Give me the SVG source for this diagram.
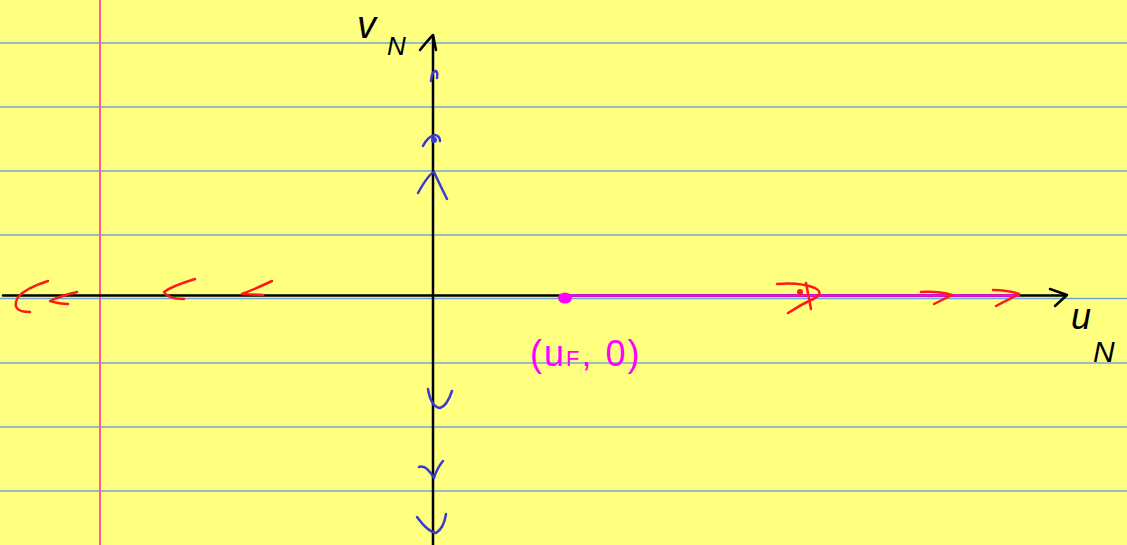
<svg xmlns="http://www.w3.org/2000/svg" width="1127" height="545" viewBox="0 0 1127 545">
<style>
.rule{stroke:#6fa8d8;stroke-width:1.5}
.ax{stroke:#000;stroke-width:2.5;fill:none;stroke-linecap:round;stroke-linejoin:round}
.blue{stroke:#3a3ad0;stroke-width:2.5;fill:none;stroke-linecap:round;stroke-linejoin:round}
.red{stroke:#ff1a1a;stroke-width:2.5;fill:none;stroke-linecap:round;stroke-linejoin:round}
.lbl{font-family:"Liberation Sans",sans-serif;font-style:italic}
</style>
<rect width="1127" height="545" fill="#ffff80"/>
<g id="rules">
<line class="rule" x1="0" y1="43" x2="1127" y2="43"/>
<line class="rule" x1="0" y1="107" x2="1127" y2="107"/>
<line class="rule" x1="0" y1="171" x2="1127" y2="171"/>
<line class="rule" x1="0" y1="235" x2="1127" y2="235"/>
<line class="rule" x1="0" y1="298.5" x2="1127" y2="298.5"/>
<line class="rule" x1="0" y1="363" x2="1127" y2="363"/>
<line class="rule" x1="0" y1="427" x2="1127" y2="427"/>
<line class="rule" x1="0" y1="491" x2="1127" y2="491"/>
</g>
<line id="margin" x1="100" y1="0" x2="100" y2="545" stroke="#ff5c8a" stroke-width="2"/>
<g id="axes">
<line class="ax" x1="3" y1="295.5" x2="1066" y2="295.5"/>
<path class="ax" d="M1050 289 L1067 295 L1055 306"/>
<line class="ax" x1="433" y1="36" x2="433" y2="545"/>
<path class="ax" d="M420 50 Q428 40 433 35 L436 50" stroke-width="3"/>
</g>
<g id="magenta-branch">
<line x1="565" y1="295.5" x2="1020" y2="295.5" stroke="#ff00ff" stroke-width="2.5"/>
<ellipse cx="565" cy="298" rx="7" ry="5.5" fill="#ff00ff"/>
<text x="530" y="366" font-size="36" fill="#ff00ff" font-family="'Liberation Sans',sans-serif" letter-spacing="2">(u<tspan font-size="22">F</tspan>, 0)</text>
</g>
<g id="blue-marks">
<path class="blue" d="M431 81 Q432 70 436 71 Q438 73 437 78"/>
<path class="blue" d="M423 146 Q428 136 435 135 Q440 136 440 141"/>
<circle cx="434" cy="140" r="3" fill="#3a3ad0"/>
<path class="blue" d="M418 193 Q428 175 434 172 Q440 185 447 199"/>
<path class="blue" d="M428 389 Q431 407 440 408 Q447 406 452 391"/>
<path class="blue" d="M419 467 Q426 464 434 478 Q437 468 443 461"/>
<path class="blue" d="M417 517 Q428 532 436 533 Q444 528 446 514"/>
</g>
<g id="red-arrows">
<path class="red" d="M48 281 Q26 288 18 297 Q10 312 30 312"/>
<path class="red" d="M77 292 Q60 296 50 301 Q60 304 68 304"/>
<path class="red" d="M195 279 Q172 286 164 292 Q168 299 184 299"/>
<path class="red" d="M272 281 Q255 289 242 294 L263 295"/>
<path class="red" d="M777 284 Q800 282 815 288 Q824 293 815 298 Q800 305 788 313"/>
<path class="red" d="M806 283 L811 309"/>
<circle cx="800" cy="292" r="3" fill="#ff1a1a"/>
<path class="red" d="M921 292 Q938 291 952 295 L934 304"/>
<path class="red" d="M993 290 Q1008 290 1019 294 L996 306"/>
</g>
<g id="labels">
<text class="lbl" x="357" y="38" font-size="38">v</text>
<text class="lbl" x="387" y="55" font-size="26">N</text>
<text class="lbl" x="1071" y="329" font-size="36">u</text>
<text class="lbl" x="1093" y="362" font-size="30">N</text>
</g>
</svg>
